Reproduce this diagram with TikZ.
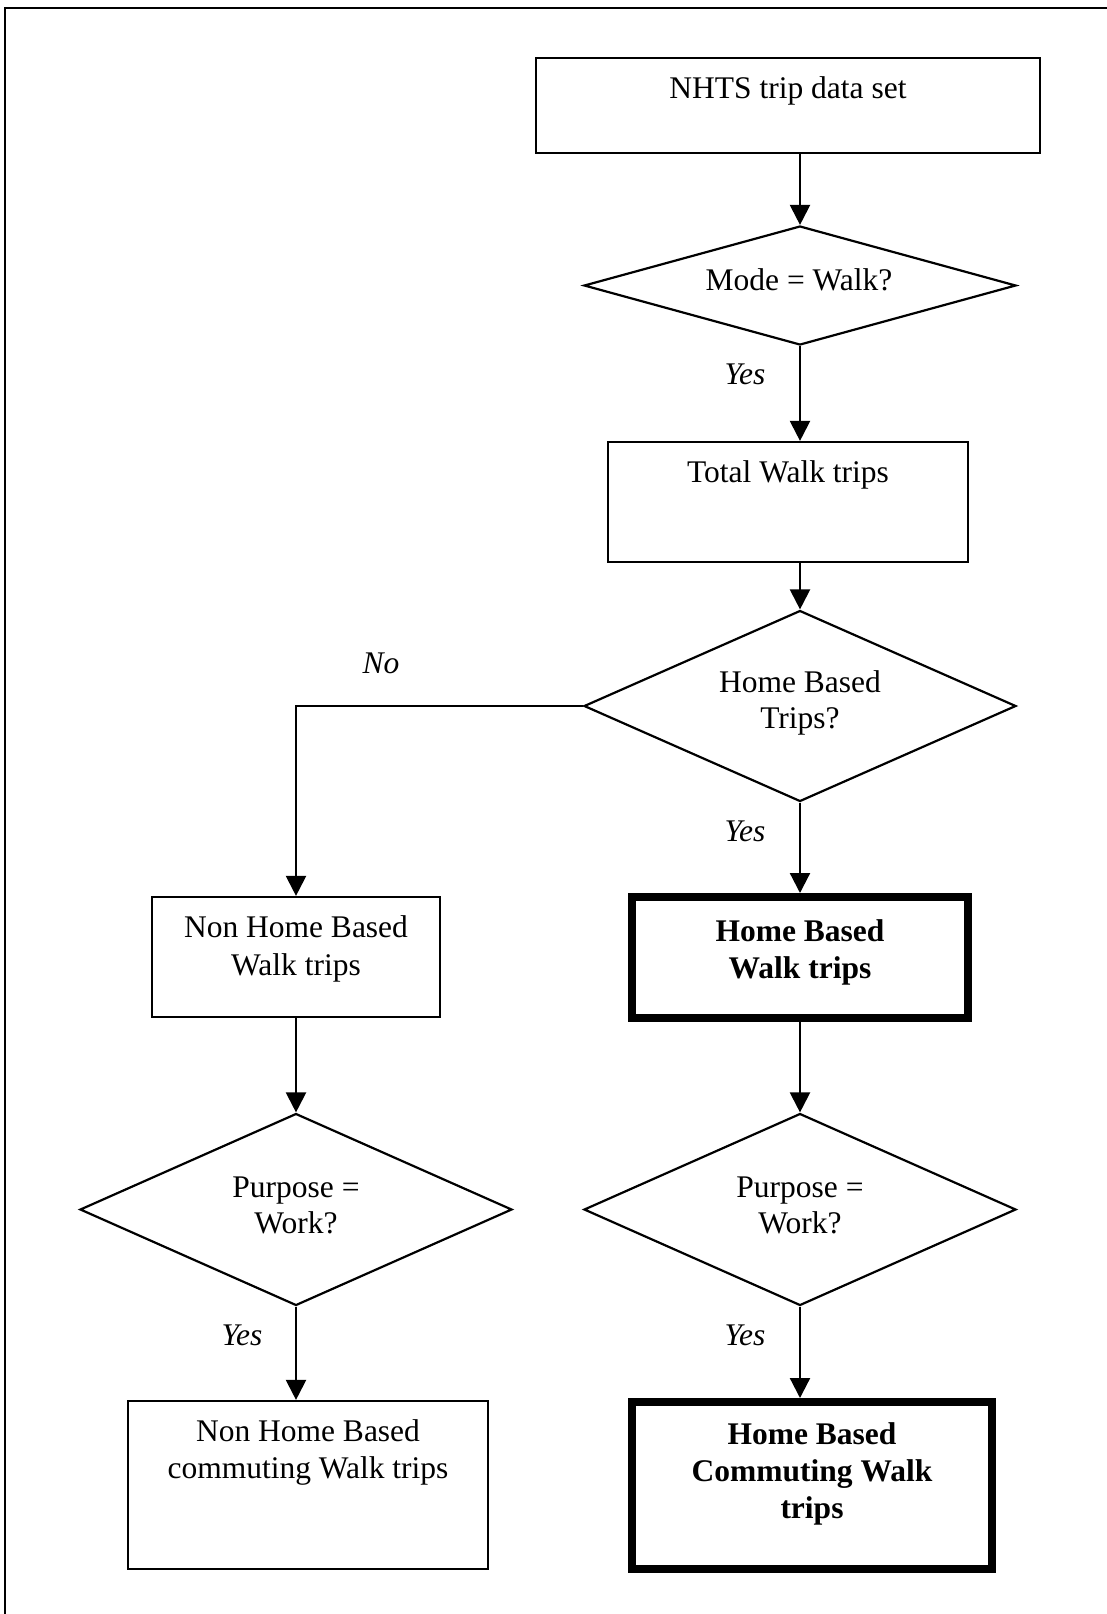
\documentclass[tikz,border=0pt]{standalone}
\usepackage{fontspec}
\setmainfont{Liberation Serif}
\usetikzlibrary{shapes.geometric,arrows.meta}
\newcommand{\fsz}{\fontsize{15.75pt}{18.5pt}\selectfont}
\tikzset{
  thin/.style={line width=1.1pt},
  box/.style={draw, thin, rectangle, inner sep=0pt},
  boldbox/.style={draw, line width=4pt, rectangle, inner sep=0pt},
  dia/.style={draw, thin, diamond, inner sep=0pt},
  txt/.style={anchor=base, inner sep=0pt, font=\fsz},
  btxt/.style={anchor=base, inner sep=0pt, font=\fsz\bfseries},
  lbl/.style={anchor=base, inner sep=0pt, font=\fsz\itshape},
  arr/.style={thin, -{Triangle[length=10pt,width=10pt]}}
}
\begin{document}
\begin{tikzpicture}[x=0.5pt,y=-0.5pt]
\useasboundingbox (0,0) rectangle (1107,1614);
% outer frame
\draw[thin] (5,1614) -- (5,8) -- (1107,8);

% boxes
\node[box, minimum width=252pt, minimum height=47.5pt] (nhts) at (788,105.5) {};
\node[txt] (nhtsT) at (788,98) {NHTS trip data set};

\node[dia, minimum width=216pt, minimum height=59.5pt] (d1) at (800,285.5) {};
\node[txt] (d1T) at (799,290) {Mode = Walk?};

\node[box, minimum width=180pt, minimum height=60pt] (total) at (788,502) {};
\node[txt] (totalT) at (788,482) {Total Walk trips};

\node[dia, minimum width=216pt, minimum height=95.5pt] (d2) at (800,706) {};
\node[txt] (d2T1) at (800,692) {Home Based};
\node[txt] (d2T2) at (800,728) {Trips?};

\node[box, minimum width=144pt, minimum height=60pt] (nhbw) at (296,957) {};
\node[txt] (nhbwT1) at (296,937) {Non Home Based};
\node[txt] (nhbwT2) at (296,975) {Walk trips};

\node[boldbox, minimum width=168pt, minimum height=60.5pt] (hbw) at (800,957.5) {};
\node[btxt] (hbwT1) at (800,941) {Home Based};
\node[btxt] (hbwT2) at (800,978) {Walk trips};

\node[dia, minimum width=216pt, minimum height=96pt] (d3) at (296,1209.5) {};
\node[txt] (d3T1) at (296,1197) {Purpose =};
\node[txt] (d3T2) at (296,1233) {Work?};

\node[dia, minimum width=216pt, minimum height=96pt] (d4) at (800,1209.5) {};
\node[txt] (d4T1) at (800,1197) {Purpose =};
\node[txt] (d4T2) at (800,1233) {Work?};

\node[box, minimum width=180pt, minimum height=84pt] (nhbc) at (308,1485) {};
\node[txt] (nhbcT1) at (308,1441) {Non Home Based};
\node[txt] (nhbcT2) at (308,1478) {commuting Walk trips};

\node[boldbox, minimum width=180pt, minimum height=83.5pt] (hbc) at (812,1485.5) {};
\node[btxt] (hbcT1) at (812,1444) {Home Based};
\node[btxt] (hbcT2) at (812,1481) {Commuting Walk};
\node[btxt] (hbcT3) at (812,1518) {trips};

% labels
\node[lbl] (yes1) at (745,384) {Yes};
\node[lbl] (no1) at (381,673) {No};
\node[lbl] (yes2) at (745,841) {Yes};
\node[lbl] (yes3) at (242,1345) {Yes};
\node[lbl] (yes4) at (745,1345) {Yes};

% connectors
\draw[arr] (d1.north |- nhts.south) -- (d1.north);
\draw[arr] (d1.south) -- (d1.south |- total.north);
\draw[arr] (d2.north |- total.south) -- (d2.north);
\draw[arr] (d2.west) -| (nhbw.north);
\draw[arr] (d2.south) -- (hbw.north);
\draw[arr] (nhbw.south) -- (d3.north);
\draw[arr] (hbw.south) -- (d4.north);
\draw[arr] (d3.south) -- (d3.south |- nhbc.north);
\draw[arr] (d4.south) -- (d4.south |- hbc.north);
\end{tikzpicture}
\end{document}
